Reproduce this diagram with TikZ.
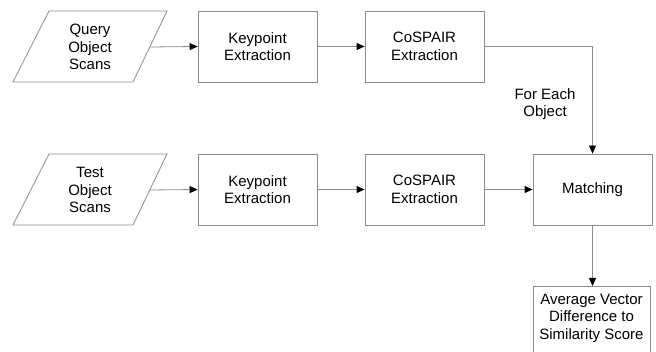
\documentclass[tikz,border=0pt]{standalone}
\usepackage{fontspec}
\setmainfont{Liberation Sans}
\usetikzlibrary{arrows.meta}
\definecolor{edgegray}{HTML}{8C8C8C}
\begin{document}
\begin{tikzpicture}[x=1pt,y=-1pt,
  every node/.style={font=\fontsize{15}{17.5}\selectfont, align=center, text=black},
  procbox/.style={draw=edgegray, line width=0.8pt, minimum width=119pt, minimum height=71pt, inner sep=0pt},
  iobox/.style={draw=edgegray, line width=0.8pt, line join=miter},
  flow/.style={draw=edgegray, line width=0.8pt, -{Triangle[length=8pt,width=7pt,color=black]}}
]
\useasboundingbox (0,0) rectangle (656,352);
\clip (0,0) rectangle (656,352);
% input parallelograms
\draw[iobox] (49,11) -- (167,11) -- (133,82) -- (13,82) -- cycle;
\node (q) at (90,47) {Query\\Object\\Scans};
\coordinate (qr) at (150,47);
\draw[iobox] (49,154) -- (167,154) -- (133,225) -- (13,225) -- cycle;
\node (t) at (90,190) {Test\\Object\\Scans};
\coordinate (tr) at (150,190);
% process boxes
\node[procbox] (k1) at (257.5,46.5) {Keypoint\\Extraction};
\node[procbox] (c1) at (424.5,46.5) {CoSPAIR\\Extraction};
\node[procbox] (k2) at (257.5,189.5) {Keypoint\\Extraction};
\node[procbox] (c2) at (424.5,189.5) {CoSPAIR\\Extraction};
\node[procbox] (m) at (592.5,189.5) {Matching};
\node[procbox, minimum width=117pt, minimum height=80pt, anchor=north] (s) at (591.5,286) {};
\node (st) at (591.5,318) {Average Vector\\Difference to\\Similarity Score};
% connectors
\draw[flow] (qr) -- (k1.west);
\draw[flow] (k1.east) -- (c1.west);
\draw[flow] (c1.east) -| (m.north);
\draw[flow] (tr) -- (k2.west);
\draw[flow] (k2.east) -- (c2.west);
\draw[flow] (c2.east) -- (m.west);
\draw[flow] (m.south) -- (m.south |- s.north);
\node (lbl) at (545,104) {For Each\\Object};
\end{tikzpicture}
\end{document}
